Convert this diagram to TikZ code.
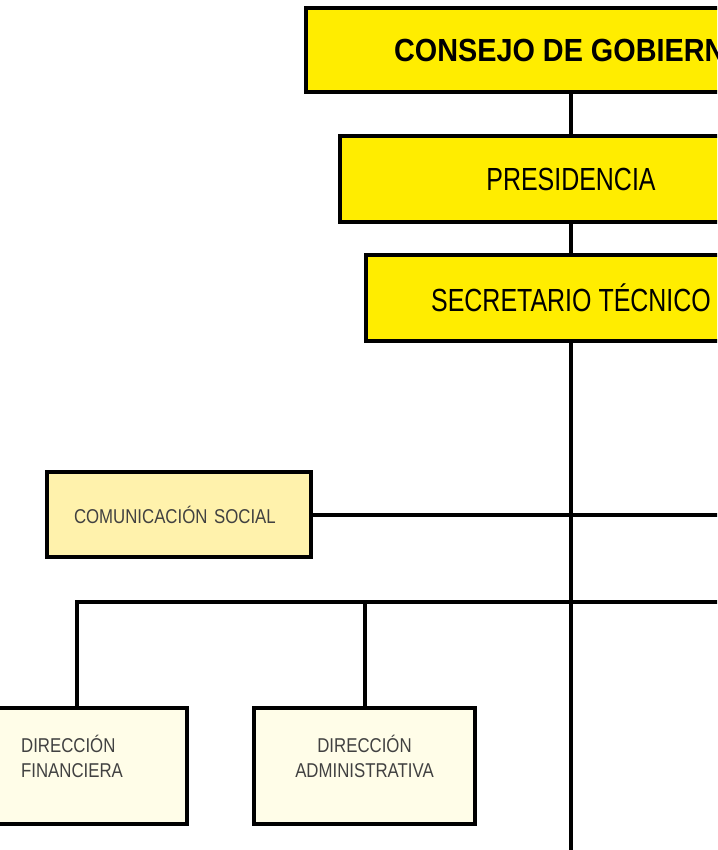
\documentclass[tikz,border=0pt]{standalone}
\usepackage{fontspec}
\setmainfont{Liberation Sans}
\newfontfamily\headfont[FakeStretch=0.9]{Liberation Sans Bold}
\newfontfamily\rankfont[FakeStretch=0.78]{Liberation Sans}
\newfontfamily\unitfont[FakeStretch=0.84]{Liberation Sans}
\definecolor{govyellow}{RGB}{255,237,0}
\definecolor{commyellow}{RGB}{255,242,172}
\definecolor{dirpale}{RGB}{255,253,232}
\definecolor{unitink}{RGB}{65,65,65}

\begin{document}
\begin{tikzpicture}[x=1pt, y=1pt,
  mainbox/.style={rectangle, draw=black, line width=4.5pt, fill=govyellow, inner sep=0pt},
  unitbox/.style={rectangle, draw=black, line width=4.5pt, inner sep=0pt, text=unitink,
    font=\unitfont\fontsize{20}{25}\selectfont},
  dirbox/.style={unitbox, fill=dirpale, minimum height=116, text depth=20pt},
  link/.style={black, line width=4pt}]
  \useasboundingbox (0,0) rectangle (717,-850);
  \clip (0,0) rectangle (717,-850);
  % top of the chart
  \node[mainbox, minimum width=530, minimum height=84, font=\headfont\fontsize{32}{36}\selectfont] (consejo) at (571,-50) {CONSEJO DE GOBIERNO};
  \node[mainbox, minimum width=462, minimum height=86, font=\rankfont\fontsize{32}{36}\selectfont] (presidencia) at (571,-179) {PRESIDENCIA};
  \node[mainbox, minimum width=410, minimum height=86, font=\rankfont\fontsize{32}{36}\selectfont] (secretario) at (571,-298) {SECRETARIO TÉCNICO};
  % units
  \node[unitbox, fill=commyellow, minimum width=264, minimum height=85, text width=210pt, align=left] (comunicacion) at (179,-514.5) {COMUNICACIÓN SOCIAL};
  \node[dirbox, minimum width=230, align=left] (financiera) at (72,-766) {DIRECCIÓN\\FINANCIERA};
  \node[dirbox, minimum width=221, align=center] (administrativa) at (364.5,-766) {DIRECCIÓN\\ADMINISTRATIVA};
  \coordinate (rightedge) at (730,0);
  \coordinate (trunkend) at (571,-860);
  \coordinate (bar) at (571,-601.7);
  % connectors
  \draw[link] (consejo) -- (presidencia);
  \draw[link] (presidencia) -- (secretario);
  \draw[link] (secretario) -- (trunkend);
  \draw[link] (comunicacion.east) -- (comunicacion.east -| rightedge);
  \draw[link] (financiera.north -| 77,0) |- (bar) -- (bar -| rightedge);
  \draw[link] (administrativa.north) -- (administrativa.north |- bar);
\end{tikzpicture}
\end{document}
